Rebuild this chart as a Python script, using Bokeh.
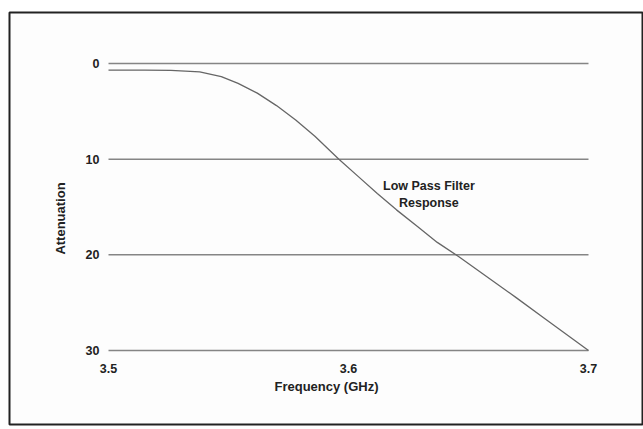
from bokeh.plotting import figure
from bokeh.models import LinearAxis, FixedTicker, Range1d, Label, ColumnDataSource
from bokeh.embed import file_html
from bokeh.resources import INLINE

# Data
freq = [3.500, 3.515, 3.526, 3.538, 3.547, 3.554, 3.562, 3.570, 3.578, 3.586, 3.591,
        3.596, 3.604, 3.612, 3.620, 3.629, 3.637, 3.646, 3.660, 3.670, 3.682, 3.700]
atten = [0.7, 0.7, 0.72, 0.87, 1.38, 2.07, 3.1, 4.4, 5.9, 7.6, 8.8,
         10.0, 11.8, 13.6, 15.3, 17.1, 18.7, 20.2, 22.7, 24.5, 26.7, 30.0]
x_ticks = [3.5, 3.6, 3.7]
y_ticks = [0, 10, 20, 30]
annotation_text = "Low Pass Filter\nResponse"
annotation_pos = (3.6335, 13.7)

FONT = "Liberation Sans"
INK = "#222222"

p = figure(width=643, height=429, output_backend="svg", toolbar_location=None,
           x_axis_location=None, y_axis_location=None,
           x_range=Range1d(3.45875, 3.722917), y_range=Range1d(37.735, -5.331),
           min_border_left=9, min_border_right=0, min_border_top=12, min_border_bottom=5,
           background_fill_color="#fdfdfd", border_fill_color="#ffffff")
p.outline_line_color = "#222222"
p.outline_line_width = 2
p.xgrid.visible = False
p.ygrid.visible = False

# horizontal reference lines spanning the frequency range
x0 = [x_ticks[0]] * len(y_ticks)
x1 = [x_ticks[-1]] * len(y_ticks)
p.segment(x0=x0, y0=y_ticks, x1=x1, y1=y_ticks, line_color="#858585", line_width=1.5)

# response curve
src = ColumnDataSource(dict(f=freq, a=atten))
p.line("f", "a", source=src, line_color="#666666", line_width=1.3)

# y axis
yax = LinearAxis(fixed_location=x_ticks[0], ticker=FixedTicker(ticks=y_ticks),
                 axis_label="Attenuation")
# x axis
xax = LinearAxis(fixed_location=y_ticks[-1], ticker=FixedTicker(ticks=x_ticks),
                 axis_label="Frequency (GHz)")
for ax in (xax, yax):
    ax.axis_line_color = None
    ax.major_tick_line_color = None
    ax.minor_tick_line_color = None
    ax.major_label_text_font = FONT
    ax.major_label_text_font_style = "bold"
    ax.major_label_text_font_size = "12.5px"
    ax.major_label_text_color = INK
    ax.axis_label_text_font = FONT
    ax.axis_label_text_font_style = "bold"
    ax.axis_label_text_font_size = "13px"
    ax.axis_label_text_color = INK
yax.major_label_standoff = 3
yax.axis_label_standoff = 15
xax.major_label_standoff = 7
xax.axis_label_standoff = 3
p.add_layout(yax, "left")
p.add_layout(xax, "below")

lbl = Label(x=annotation_pos[0], y=annotation_pos[1], text=annotation_text,
            text_align="center", text_baseline="middle",
            text_font=FONT, text_font_style="bold", text_font_size="12.5px",
            text_color=INK, text_line_height=1.2)
p.add_layout(lbl)

open("out.html", "w").write(file_html(p, INLINE))
